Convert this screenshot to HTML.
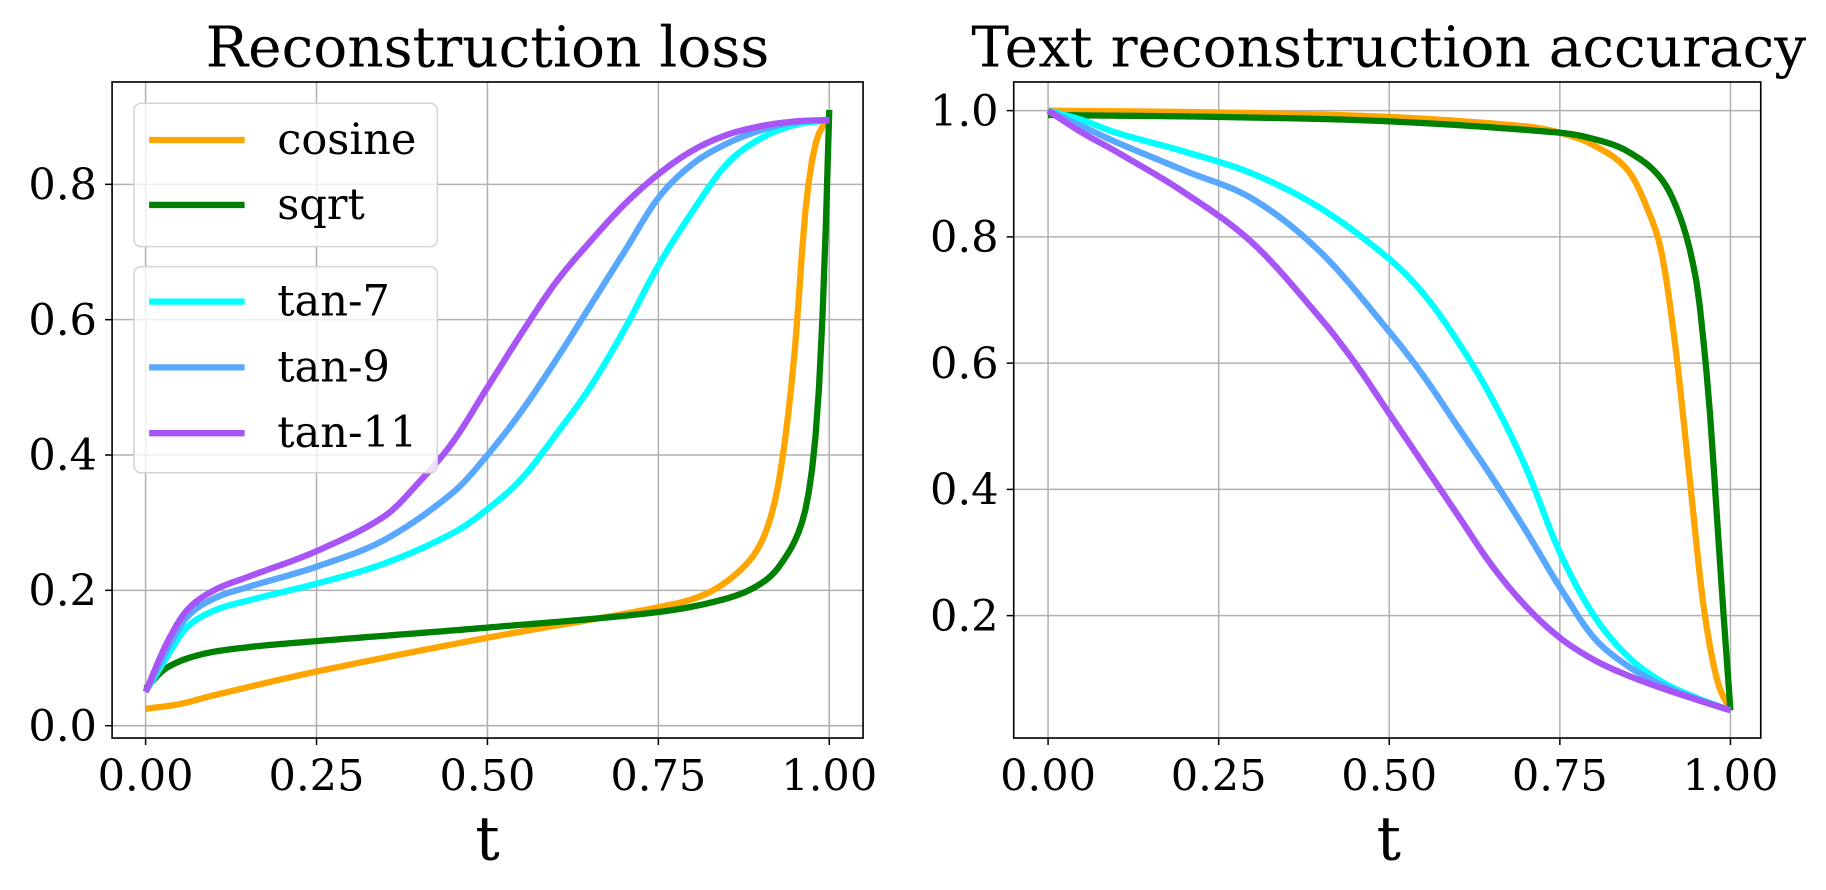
<!DOCTYPE html>
<html><head><meta charset="utf-8"><style>
html,body{margin:0;padding:0;background:#fff;}
svg{display:block;}
text{font-family:"DejaVu Serif","Liberation Serif",serif;fill:#000;}
</style></head><body>
<svg id="s" width="1826" height="890" viewBox="0 0 1568 764.3" xmlns="http://www.w3.org/2000/svg">
<rect width="1568" height="764.3" fill="#fff"/>
<g id="g1"></g>
<g id="g2"></g>
<text x="418.6" y="57" font-size="48.5" text-anchor="middle">Reconstruction loss</text>
<text x="1192.6" y="57" font-size="48.5" text-anchor="middle">Text reconstruction accuracy</text>
<text x="418.6" y="738" font-size="52" text-anchor="middle">t</text>
<text x="1192.6" y="738" font-size="52" text-anchor="middle">t</text>
</svg>
<script>
var NS="http://www.w3.org/2000/svg";
function el(p,n,a,t){var e=document.createElementNS(NS,n);for(var k in a)e.setAttribute(k,a[k]);if(t!==undefined)e.textContent=t;p.appendChild(e);return e;}
function interp(pts,t){for(var i=0;i<pts.length-1;i++){if(t<=pts[i+1][0]){var p0=pts[Math.max(i-1,0)],p1=pts[i],p2=pts[i+1],p3=pts[Math.min(i+2,pts.length-1)];var u=(t-p1[0])/(p2[0]-p1[0]);
var m1=(p2[1]-p0[1])/(p2[0]-p0[0]),m2=(p3[1]-p1[1])/(p3[0]-p1[0]);var h=p2[0]-p1[0];
var d=(p2[1]-p1[1])/h; if(d===0){m1=0;m2=0;} else {if(m1/d<0)m1=0;if(m2/d<0)m2=0;if(m1/d>3)m1=3*d;if(m2/d>3)m2=3*d;}
var u2=u*u,u3=u2*u;return (2*u3-3*u2+1)*p1[1]+(u3-2*u2+u)*h*m1+(-2*u3+3*u2)*p2[1]+(u3-u2)*h*m2;}}return pts[pts.length-1][1];}
function axes(g,o){
 var X=function(v){return o.x0+(o.x1-o.x0)*v;},Y=function(v){return o.y0+(o.y1-o.y0)*(v-o.v0)/(o.v1-o.v0);};
 var xt=[0,0.25,0.5,0.75,1],xl=["0.00","0.25","0.50","0.75","1.00"];
 xt.forEach(function(v,i){el(g,"line",{x1:X(v),x2:X(v),y1:o.T,y2:o.B,stroke:"#b0b0b0","stroke-width":1.3});
  el(g,"line",{x1:X(v),x2:X(v),y1:o.B,y2:o.B+6,stroke:"#000","stroke-width":1.3});
  el(g,"text",{x:X(v),y:679,"font-size":37,"text-anchor":"middle"},xl[i]);});
 o.yt.forEach(function(v){var y=Y(v);el(g,"line",{x1:o.L,x2:o.R,y1:y,y2:y,stroke:"#b0b0b0","stroke-width":1.3});
  el(g,"line",{x1:o.L-6,x2:o.L,y1:y,y2:y,stroke:"#000","stroke-width":1.3});
  el(g,"text",{x:o.L-13,y:y+13,"font-size":37,"text-anchor":"end"},v.toFixed(1));});
 o.series.forEach(function(s){var d="";for(var k=0;k<=200;k++){var t=k/200;var v=interp(s[1],t);d+=(k?"L":"M")+X(t).toFixed(2)+","+Y(v).toFixed(2);}
  el(g,"path",{d:d,fill:"none",stroke:s[0],"stroke-width":5.4,"stroke-linejoin":"round"});});
 el(g,"rect",{x:o.L,y:o.T,width:o.R-o.L,height:o.B-o.T,fill:"none",stroke:"#000","stroke-width":1.4});
}
var C={cos:"#ffa500",sq:"#008000",t7:"#00ffff",t9:"#58a8ff",t11:"#a855f7"};
axes(document.getElementById("g1"),{x0:125,x1:712.1,y0:623.2,y1:158.3,v0:0,v1:0.8,L:96.2,R:741.1,T:70.4,B:633.8,yt:[0,0.2,0.4,0.6,0.8],
series:[
[C.cos,[[0,0.025],[0.05,0.032],[0.1,0.045],[0.25,0.08],[0.5,0.13],[0.75,0.175],[0.82,0.195],[0.87,0.23],[0.9,0.27],[0.92,0.33],[0.935,0.42],[0.95,0.56],[0.965,0.76],[0.98,0.86],[1,0.9]]],
[C.sq,[[0,0.055],[0.03,0.085],[0.08,0.105],[0.15,0.116],[0.25,0.125],[0.5,0.145],[0.75,0.168],[0.85,0.188],[0.9,0.21],[0.93,0.24],[0.96,0.3],[0.975,0.38],[0.985,0.5],[0.993,0.68],[1,0.91]]],
[C.t7,[[0,0.05],[0.03,0.1],[0.06,0.145],[0.1,0.17],[0.15,0.185],[0.25,0.21],[0.35,0.24],[0.45,0.285],[0.5,0.32],[0.55,0.365],[0.6,0.43],[0.65,0.5],[0.7,0.585],[0.75,0.68],[0.8,0.76],[0.85,0.83],[0.9,0.868],[0.95,0.888],[1,0.895]]],
[C.t9,[[0,0.05],[0.03,0.11],[0.06,0.16],[0.1,0.188],[0.15,0.205],[0.25,0.235],[0.35,0.275],[0.45,0.345],[0.5,0.4],[0.55,0.465],[0.6,0.54],[0.65,0.62],[0.7,0.7],[0.75,0.78],[0.8,0.83],[0.85,0.86],[0.9,0.88],[0.95,0.892],[1,0.895]]],
[C.t11,[[0,0.05],[0.03,0.12],[0.06,0.17],[0.1,0.2],[0.15,0.22],[0.25,0.258],[0.35,0.31],[0.4,0.36],[0.45,0.42],[0.5,0.5],[0.55,0.58],[0.6,0.655],[0.65,0.715],[0.7,0.77],[0.75,0.815],[0.8,0.85],[0.85,0.873],[0.9,0.886],[0.95,0.893],[1,0.895]]]
]});
axes(document.getElementById("g2"),{x0:900,x1:1486,y0:95,y1:528.7,v0:1,v1:0.2,L:870.5,R:1512,T:70.4,B:633.8,yt:[0.2,0.4,0.6,0.8,1.0],
series:[
[C.cos,[[0,1.0],[0.25,0.997],[0.5,0.99],[0.7,0.975],[0.75,0.965],[0.8,0.945],[0.85,0.905],[0.88,0.84],[0.9,0.77],[0.92,0.62],[0.94,0.42],[0.96,0.22],[0.98,0.1],[1,0.05]]],
[C.sq,[[0,0.993],[0.25,0.99],[0.5,0.983],[0.75,0.965],[0.8,0.955],[0.85,0.935],[0.9,0.89],[0.93,0.82],[0.95,0.73],[0.96,0.64],[0.97,0.52],[0.98,0.36],[0.99,0.2],[1,0.05]]],
[C.t7,[[0,1.0],[0.05,0.985],[0.1,0.965],[0.2,0.935],[0.3,0.9],[0.4,0.845],[0.5,0.765],[0.55,0.71],[0.6,0.635],[0.65,0.545],[0.7,0.435],[0.75,0.3],[0.8,0.2],[0.85,0.135],[0.9,0.095],[0.95,0.07],[1,0.05]]],
[C.t9,[[0,1.0],[0.05,0.975],[0.1,0.95],[0.2,0.905],[0.3,0.86],[0.4,0.775],[0.5,0.65],[0.55,0.58],[0.6,0.5],[0.65,0.42],[0.7,0.335],[0.75,0.245],[0.8,0.165],[0.85,0.12],[0.9,0.09],[0.95,0.068],[1,0.05]]],
[C.t11,[[0,1.0],[0.05,0.965],[0.1,0.935],[0.2,0.87],[0.3,0.79],[0.4,0.67],[0.45,0.6],[0.5,0.52],[0.55,0.44],[0.6,0.36],[0.65,0.28],[0.7,0.215],[0.75,0.165],[0.8,0.13],[0.85,0.105],[0.9,0.085],[0.95,0.067],[1,0.05]]]
]});
var g=document.getElementById("g1");
function legend(y0,y1,items){el(g,"rect",{x:115,y:y0,width:260.5,height:y1-y0,rx:6,fill:"#fff","fill-opacity":0.8,stroke:"#d4d4d4","stroke-width":1.3});
 items.forEach(function(it){el(g,"line",{x1:128,x2:210,y1:it[2],y2:it[2],stroke:it[0],"stroke-width":5.4});
 el(g,"text",{x:238,y:it[2]+12,"font-size":37},it[1]);});}
legend(88.7,211.8,[[C.cos,"cosine",120.2],[C.sq,"sqrt",176]]);
legend(229,406,[[C.t7,"tan-7",259],[C.t9,"tan-9",315.5],[C.t11,"tan-11",372]]);
</script>
</body></html>
